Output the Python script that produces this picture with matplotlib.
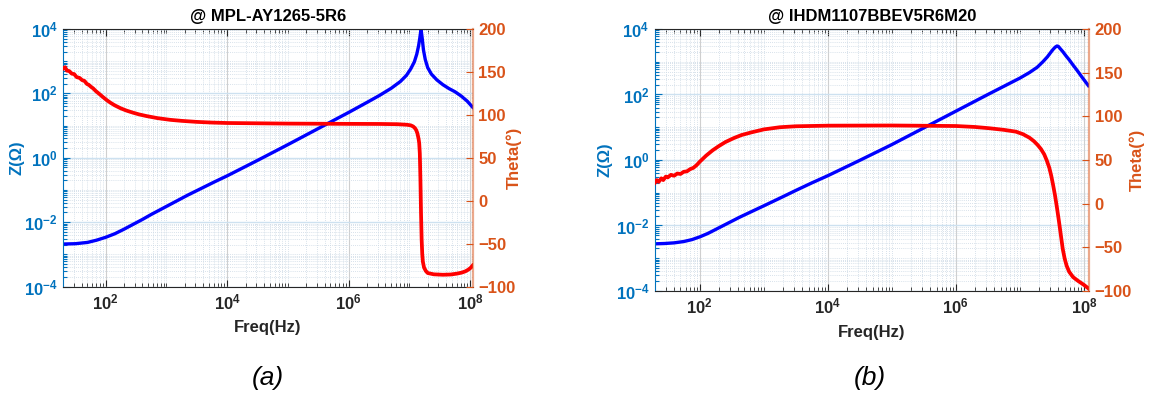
import matplotlib
matplotlib.use("Agg")
import matplotlib.pyplot as plt
from matplotlib.ticker import FixedLocator, LogLocator, NullFormatter
import numpy as np

plt.rcParams['font.family'] = ['Liberation Sans', 'DejaVu Sans']
plt.rcParams['mathtext.fontset'] = 'custom'
plt.rcParams['mathtext.rm'] = 'Liberation Sans:bold'
plt.rcParams['mathtext.bf'] = 'Liberation Sans:bold'
plt.rcParams['mathtext.it'] = 'Liberation Sans:italic:bold'

# ---- (a) MPL-AY1265-5R6 : log10(freq), log10(|Z|) and phase (deg)
fa_z = [1.30, 1.50, 1.70, 1.85, 2.00, 2.15, 2.30, 2.45, 2.60, 2.75, 2.90, 3.05, 3.20,
        3.35, 3.50, 3.65, 3.80, 4.00, 4.50, 5.00, 5.50, 6.00, 6.30, 6.50, 6.70, 6.85,
        6.95, 7.02, 7.08, 7.12, 7.15, 7.17, 7.185, 7.19, 7.195, 7.21, 7.23, 7.26, 7.30,
        7.36, 7.45, 7.55, 7.65, 7.75, 7.85, 7.95, 8.04]
za = [-2.68, -2.67, -2.63, -2.56, -2.47, -2.36, -2.22, -2.07, -1.92, -1.76, -1.61, -1.46, -1.31,
      -1.16, -1.02, -0.88, -0.74, -0.56, -0.08, 0.41, 0.91, 1.41, 1.72, 1.93, 2.16, 2.37,
      2.56, 2.76, 2.98, 3.22, 3.48, 3.72, 3.92, 3.96, 3.92, 3.70, 3.35, 3.05, 2.80,
      2.60, 2.42, 2.27, 2.15, 2.05, 1.92, 1.76, 1.57]

fa_th = [1.30, 1.33, 1.36, 1.40, 1.44, 1.48, 1.52, 1.57, 1.61, 1.65, 1.69, 1.72, 1.76,
         1.79, 1.84, 1.90, 1.95, 2.01, 2.08, 2.15, 2.25, 2.34, 2.45, 2.55, 2.67, 2.85,
         3.06, 3.25, 3.50, 3.75, 4.00, 5.00, 6.00, 6.50, 6.80, 6.95, 7.02, 7.06, 7.09,
         7.11, 7.13, 7.15, 7.16, 7.17, 7.18, 7.19, 7.20, 7.21, 7.22, 7.24, 7.27, 7.30,
         7.40, 7.55, 7.68, 7.78, 7.86, 7.92, 7.97, 8.01, 8.04]
tha = [154, 155.5, 151.5, 151, 148, 147.5, 144, 143, 140.5, 139.5, 136, 135, 132.5,
       131, 127.5, 124, 121, 117.5, 114, 111, 107.5, 105, 102.5, 100.5, 98.6, 96.2,
       94.2, 93, 91.8, 91, 90.5, 89.8, 89.5, 89.4, 89.1, 88.5, 87.8, 86.5, 84.5,
       82.3, 78.5, 72, 67, 55, 25, -15, -45, -62, -71, -78, -82, -84.3,
       -85.8, -86.3, -86, -85, -83.8, -82.3, -80.3, -78, -75.5]

# ---- (b) IHDM1107BBEV5R6M20
fb_z = [1.30, 1.45, 1.60, 1.75, 1.88, 2.01, 2.13, 2.25, 2.37, 2.48, 2.62, 2.75, 2.88,
        3.00, 3.15, 3.30, 3.50, 3.75, 4.00, 4.50, 5.00, 5.50, 6.00, 6.50, 6.80, 7.00,
        7.15, 7.27, 7.36, 7.43, 7.48, 7.52, 7.555, 7.58, 7.60, 7.63, 7.67, 7.72, 7.77,
        7.83, 7.90, 7.97, 8.02, 8.07]
zb = [-2.56, -2.55, -2.53, -2.49, -2.43, -2.34, -2.24, -2.12, -2.00, -1.89, -1.75, -1.63, -1.51,
      -1.40, -1.26, -1.12, -0.93, -0.70, -0.48, -0.01, 0.47, 0.98, 1.49, 2.00, 2.30, 2.50,
      2.67, 2.83, 3.00, 3.15, 3.28, 3.38, 3.45, 3.48, 3.47, 3.40, 3.31, 3.18, 3.06,
      2.90, 2.72, 2.53, 2.40, 2.27]

fb_th = [1.30, 1.33, 1.36, 1.40, 1.43, 1.47, 1.50, 1.55, 1.60, 1.65, 1.70, 1.75, 1.80,
         1.85, 1.90, 1.95, 2.00, 2.10, 2.20, 2.30, 2.40, 2.53, 2.65, 2.80, 3.00, 3.25,
         3.50, 4.00, 5.00, 6.00, 6.30, 6.53, 6.75, 6.94, 7.05, 7.15, 7.22, 7.28, 7.33,
         7.38, 7.42, 7.46, 7.49, 7.52, 7.55, 7.58, 7.61, 7.64, 7.67, 7.70, 7.73, 7.77,
         7.83, 7.90, 8.00, 8.07]
thb = [24, 27, 25, 29, 27, 31, 30, 33, 32, 34.5, 34, 36.5, 37,
       39.5, 41, 44, 48, 55, 61, 66, 70.5, 75, 78.5, 81.5, 85, 87.5,
       88.6, 89.3, 89.5, 88.9, 87.8, 86.3, 84.5, 82.4, 79.5, 75.5, 71.5, 67, 62.5,
       56.5, 49.5, 41, 32, 21, 9, -5, -20, -36, -52, -63, -71, -78,
       -84, -88, -93, -97]

titles = ['@ MPL-AY1265-5R6', '@ IHDM1107BBEV5R6M20']
captions = ['(a)', '(b)']
x_ticks = [1e2, 1e4, 1e6, 1e8]
x_labels = [r'10$^{\mathbf{2}}$', r'10$^{\mathbf{4}}$', r'10$^{\mathbf{6}}$', r'10$^{\mathbf{8}}$']
z_ticks = [1e-4, 1e-2, 1e0, 1e2, 1e4]
z_labels = [r'10$^{\mathbf{-4}}$', r'10$^{\mathbf{-2}}$', r'10$^{\mathbf{0}}$',
            r'10$^{\mathbf{2}}$', r'10$^{\mathbf{4}}$']
th_ticks = [-100, -50, 0, 50, 100, 150, 200]

BLUE_AX = '#0072BD'
ORANGE_AX = '#D95319'
DARK = '#262626'

fig = plt.figure(figsize=(11.57, 3.97), dpi=100)
positions = [[0.0547, 0.2783, 0.3539, 0.6486], [0.5661, 0.267, 0.3751, 0.660]]
xmax = [1.1e8, 1.2e8]
datasets = [(fa_z, za, fa_th, tha), (fb_z, zb, fb_th, thb)]
cap_x = [268, 870]
zlab_x = [-0.094, -0.099]
thlab_x = [1.081, 1.094]

for i in range(2):
    fz, z, fth, th = datasets[i]
    ax = fig.add_axes(positions[i])
    ax2 = ax.twinx()

    ax.plot(10 ** np.array(fz), 10 ** np.array(z), color='#0000FF', lw=2.4)
    ax2.plot(10 ** np.array(fth), th, color='#FF0000', lw=2.7)

    ax.set_xscale('log')
    ax.set_yscale('log')
    ax.set_xlim(20, xmax[i])
    ax.set_ylim(1e-4, 1e4)
    ax2.set_ylim(-100, 200)

    ax.xaxis.set_major_locator(FixedLocator(x_ticks))
    ax.set_xticklabels(x_labels)
    ax.xaxis.set_minor_locator(LogLocator(base=10, subs=np.arange(1, 10), numticks=100))
    ax.xaxis.set_minor_formatter(NullFormatter())
    ax.yaxis.set_major_locator(FixedLocator(z_ticks))
    ax.set_yticklabels(z_labels)
    ax.yaxis.set_minor_locator(LogLocator(base=10, subs=np.arange(1, 10), numticks=100))
    ax.yaxis.set_minor_formatter(NullFormatter())
    ax2.set_yticks(th_ticks)

    # grid, MATLAB-like
    ax.grid(which='major', axis='x', color='#cfcfcf', lw=0.8)
    ax.grid(which='major', axis='y', color='#cde1f0', lw=1.0)
    ax.grid(which='minor', color='#cbd8e4', lw=0.6, ls=(0, (1, 1.5)))
    ax.set_axisbelow(True)

    ax.tick_params(axis='x', which='both', direction='in', top=True, colors=DARK,
                   labelsize=12, pad=4)
    ax.tick_params(axis='x', which='major', length=5, width=0.8)
    ax.tick_params(axis='x', which='minor', length=3, width=0.6)
    ax.tick_params(axis='y', which='both', direction='in', colors=BLUE_AX, labelsize=12, pad=4)
    ax.tick_params(axis='y', which='major', length=5, width=0.8)
    ax.tick_params(axis='y', which='minor', length=3, width=0.8)
    ax2.tick_params(axis='y', which='both', direction='in', colors=ORANGE_AX, labelsize=12,
                    length=5, width=0.8, pad=4)
    for lab in ax.get_xticklabels() + ax.get_yticklabels() + ax2.get_yticklabels():
        lab.set_fontweight('bold')

    for s in ['top', 'bottom']:
        ax.spines[s].set_color(DARK)
        ax.spines[s].set_linewidth(0.8)
        ax2.spines[s].set_visible(False)
    ax.spines['left'].set_color(BLUE_AX)
    ax.spines['right'].set_visible(False)
    ax2.spines['left'].set_visible(False)
    ax2.spines['right'].set_color(ORANGE_AX)
    ax2.spines['right'].set_alpha(0.5)
    ax2.spines['right'].set_linewidth(1.6)

    ax.set_title(titles[i], fontsize=12, fontweight='bold', color='black', pad=6)
    ax.set_xlabel('Freq(Hz)', fontsize=12, fontweight='bold', color=DARK, labelpad=6)
    ax.set_ylabel('Z(Ω)', fontsize=12, fontweight='bold', color=BLUE_AX)
    ax2.set_ylabel('Theta(°)', fontsize=12, fontweight='bold', color=ORANGE_AX)
    ax.yaxis.set_label_coords(zlab_x[i], 0.5)
    ax2.yaxis.set_label_coords(thlab_x[i], 0.5)

    fig.text(cap_x[i] / 1157, 1 - 378 / 397, captions[i], fontsize=19, style='italic',
             ha='center', va='center')

fig.savefig('out.png', dpi=100)
